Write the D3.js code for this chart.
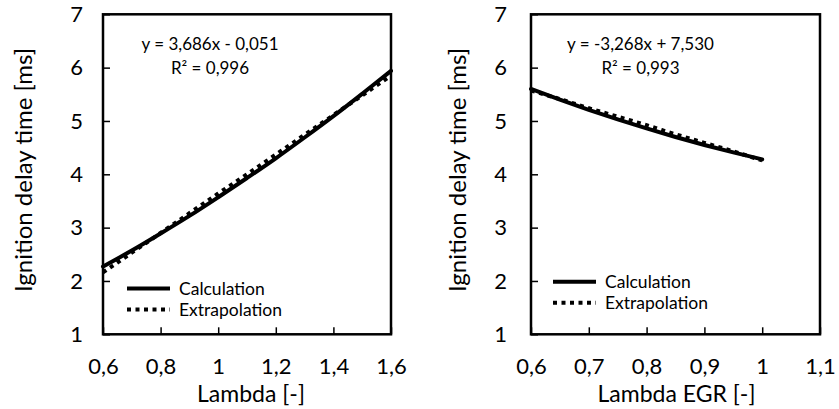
<!DOCTYPE html>
<html>
<head>
<meta charset="utf-8">
<style>
  body { margin: 0; background: #fff; }
  svg text { font-family: Lato, "Open Sans", sans-serif; fill: #000; }
</style>
</head>
<body>
<svg width="839" height="409"></svg>
<script src="https://cdn.jsdelivr.net/npm/d3@7"></script>
<script>
// left panel: lambda sweep
var lambdaX = [0.6, 0.7, 0.8, 0.9, 1.0, 1.1, 1.2, 1.3, 1.4, 1.5, 1.6];
var lambdaCalc = [2.27, 2.57, 2.89, 3.22, 3.57, 3.93, 4.30, 4.69, 5.09, 5.51, 5.94];
var lambdaExtra = [2.16, 2.53, 2.90, 3.27, 3.64, 4.00, 4.37, 4.74, 5.11, 5.48, 5.85];
var lambdaTicks = [0.6, 0.8, 1.0, 1.2, 1.4, 1.6];

// right panel: lambda with EGR
var egrX = [0.6, 0.65, 0.7, 0.75, 0.8, 0.85, 0.9, 0.95, 1.0];
var egrCalc = [5.60, 5.40, 5.21, 5.03, 4.86, 4.70, 4.55, 4.41, 4.28];
var egrExtra = [5.57, 5.41, 5.24, 5.08, 4.92, 4.75, 4.59, 4.43, 4.26];
var egrTicks = [0.6, 0.7, 0.8, 0.9, 1.0, 1.1];

var yTicks = [1, 2, 3, 4, 5, 6, 7];
var seriesNames = ["Calculation", "Extrapolation"];

var fmt = function(d){ return String(+d.toFixed(1)).replace(".", ","); };

var svg = d3.select("svg");

function panel(opt) {
  var x = d3.scaleLinear().domain(opt.xDomain).range([opt.left, opt.right]);
  var y = d3.scaleLinear().domain([1, 7]).range([334.3, 14.3]);
  var g = svg.append("g");

  var xAxis = d3.axisBottom(x).tickValues(opt.ticks).tickFormat(fmt)
      .tickSizeInner(-7).tickSizeOuter(0).tickPadding(24);
  var yAxis = d3.axisLeft(y).tickValues(yTicks).tickFormat(d3.format("d"))
      .tickSizeInner(-7).tickSizeOuter(0).tickPadding(opt.yPad);

  var gx = g.append("g").attr("transform", "translate(0,334.3)").call(xAxis);
  var gy = g.append("g").attr("transform", "translate(" + opt.left + ",0)").call(yAxis);
  [gx, gy].forEach(function(a){
    a.select(".domain").remove();
    a.selectAll("line").attr("stroke", "#000").attr("stroke-width", 1.5);
    a.selectAll("text").attr("font-size", 22);
  });

  var line = d3.line()
      .x(function(d){ return x(d[0]); })
      .y(function(d){ return y(d[1]); })
      .curve(d3.curveMonotoneX);

  g.append("path")
      .datum(d3.zip(opt.xs, opt.extra))
      .attr("fill", "none").attr("stroke", "#000")
      .attr("stroke-width", 4).attr("stroke-dasharray", "4,4.5")
      .attr("d", line);
  g.append("path")
      .datum(d3.zip(opt.xs, opt.calc))
      .attr("fill", "none").attr("stroke", "#000")
      .attr("stroke-width", 4).attr("stroke-linecap", "round")
      .attr("d", line);

  // frame
  g.append("rect")
      .attr("x", opt.left).attr("y", y(7))
      .attr("width", opt.right - opt.left).attr("height", y(1) - y(7))
      .attr("fill", "none").attr("stroke", "#000").attr("stroke-width", 2.5);

  // equation
  var eq = g.append("text").attr("font-size", 17).attr("text-anchor", "middle");
  eq.append("tspan").attr("x", opt.eqX).attr("y", 50).text(opt.eq);
  eq.append("tspan").attr("x", opt.eqX).attr("y", 74).text(opt.r2);

  // legend
  var lg = g.append("g");
  seriesNames.forEach(function(name, i){
    var ly = opt.legY + i * 21;
    lg.append("line")
        .attr("x1", opt.legX).attr("x2", opt.legX + 43)
        .attr("y1", ly).attr("y2", ly)
        .attr("stroke", "#000").attr("stroke-width", 4)
        .attr("stroke-dasharray", i ? "4,4.5" : null);
    lg.append("text").attr("x", opt.legX + 52).attr("y", ly + 6)
        .attr("font-size", 17.5).text(name);
  });

  // axis titles
  g.append("text").attr("font-size", 23).attr("text-anchor", "middle")
      .attr("x", (opt.left + opt.right) / 2 + opt.xtOff).attr("y", 402)
      .text(opt.xTitle);
  g.append("text").attr("font-size", 24).attr("text-anchor", "middle")
      .attr("transform", "translate(" + (opt.left - opt.ytOff) + ",170) rotate(-90)")
      .text("Ignition delay time [ms]");
}

panel({
  xDomain: [0.6, 1.6], left: 103, right: 391, ticks: lambdaTicks,
  xs: lambdaX, calc: lambdaCalc, extra: lambdaExtra,
  eq: "y = 3,686x - 0,051", r2: "R² = 0,996", eqX: 210,
  legX: 127, legY: 288.5, xTitle: "Lambda [-]", xtOff: 4, yPad: 20, ytOff: 71
});

panel({
  xDomain: [0.6, 1.1], left: 531, right: 820, ticks: egrTicks,
  xs: egrX, calc: egrCalc, extra: egrExtra,
  eq: "y = -3,268x + 7,530", r2: "R² = 0,993", eqX: 640.5,
  legX: 553, legY: 281.7, xTitle: "Lambda EGR [-]", xtOff: 1, yPad: 24, ytOff: 65
});
</script>
</body>
</html>
